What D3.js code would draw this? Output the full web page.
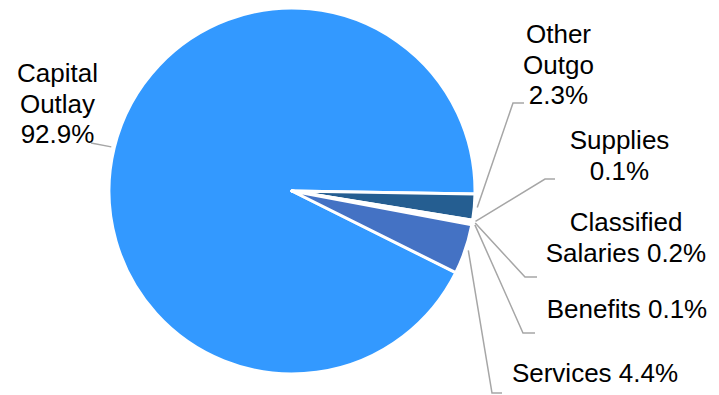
<!DOCTYPE html>
<html>
<head>
<meta charset="utf-8">
<script src="https://cdn.jsdelivr.net/npm/d3@7"></script>
<style>
  html, body { margin: 0; padding: 0; background: #fff; }
  svg { display: block; }
  text { font-family: "Liberation Sans", Arial, sans-serif; font-size: 26px; fill: #000; }
</style>
</head>
<body>
<svg id="chart" width="719" height="395"></svg>
<script>
// Expenditure shares by category, in clockwise drawing order
const categories = ["Capital Outlay", "Other Outgo", "Supplies", "Classified Salaries", "Benefits", "Services"];
const shares = [92.9, 2.3, 0.1, 0.2, 0.1, 4.4];
const colors = ["#3399FF", "#255E91", "#A5A5A5", "#FFC000", "#5B9BD5", "#4472C4"];

// Label text lines and their placement (centre x, first baseline y, elbow of leader line)
const labelLines = [
  ["Capital", "Outlay", "92.9%"],
  ["Other", "Outgo", "2.3%"],
  ["Supplies", "0.1%"],
  ["Classified", "Salaries 0.2%"],
  ["Benefits 0.1%"],
  ["Services 4.4%"]
];
const labelPos = [
  { x: 57.5, y: 82, elbow: [91, 143], end: [91, 143] },
  { x: 558.5, y: 43, elbow: [513, 103], end: [524, 103] },
  { x: 619.5, y: 149, elbow: [545, 179], end: [555, 179] },
  { x: 626, y: 231, elbow: [525, 277], end: [537, 277] },
  { x: 627, y: 318, elbow: [523, 333], end: [535, 333] },
  { x: 595, y: 382, elbow: [492, 393], end: [502, 393] }
];

const svg = d3.select("#chart");
const cx = 292, cy = 191, radius = 183;
const g = svg.append("g").attr("transform", `translate(${cx},${cy})`);

const start = 116.5 * Math.PI / 180;
const pie = d3.pie().sort(null).startAngle(start).endAngle(start + 2 * Math.PI);
const arcs = pie(shares);
const arc = d3.arc().innerRadius(0).outerRadius(radius);

g.selectAll("path.slice")
  .data(arcs)
  .join("path")
  .attr("class", "slice")
  .attr("d", arc)
  .attr("fill", (d, i) => colors[i])
  .attr("stroke", "#fff")
  .attr("stroke-width", 3)
  .attr("stroke-linejoin", "round");

// Leader lines from just outside each slice to its label
const lineR = radius + 3;
const leader = d3.line();
svg.selectAll("path.leader")
  .data(arcs)
  .join("path")
  .attr("class", "leader")
  .attr("fill", "none")
  .attr("stroke", "#A6A6A6")
  .attr("stroke-width", 1.5)
  .attr("d", (d, i) => {
    const a = (d.startAngle + d.endAngle) / 2;
    const p0 = [cx + lineR * Math.sin(a), cy - lineR * Math.cos(a)];
    const lp = labelPos[i];
    return leader([p0, lp.elbow, lp.end]);
  });

// Labels
const lineH = 30.5;
svg.selectAll("text.label")
  .data(categories)
  .join("text")
  .attr("class", "label")
  .attr("text-anchor", "middle")
  .each(function (c, i) {
    const t = d3.select(this);
    labelLines[i].forEach((s, k) => {
      t.append("tspan")
        .attr("x", labelPos[i].x)
        .attr("y", labelPos[i].y + k * lineH)
        .text(s);
    });
  });
</script>
</body>
</html>
